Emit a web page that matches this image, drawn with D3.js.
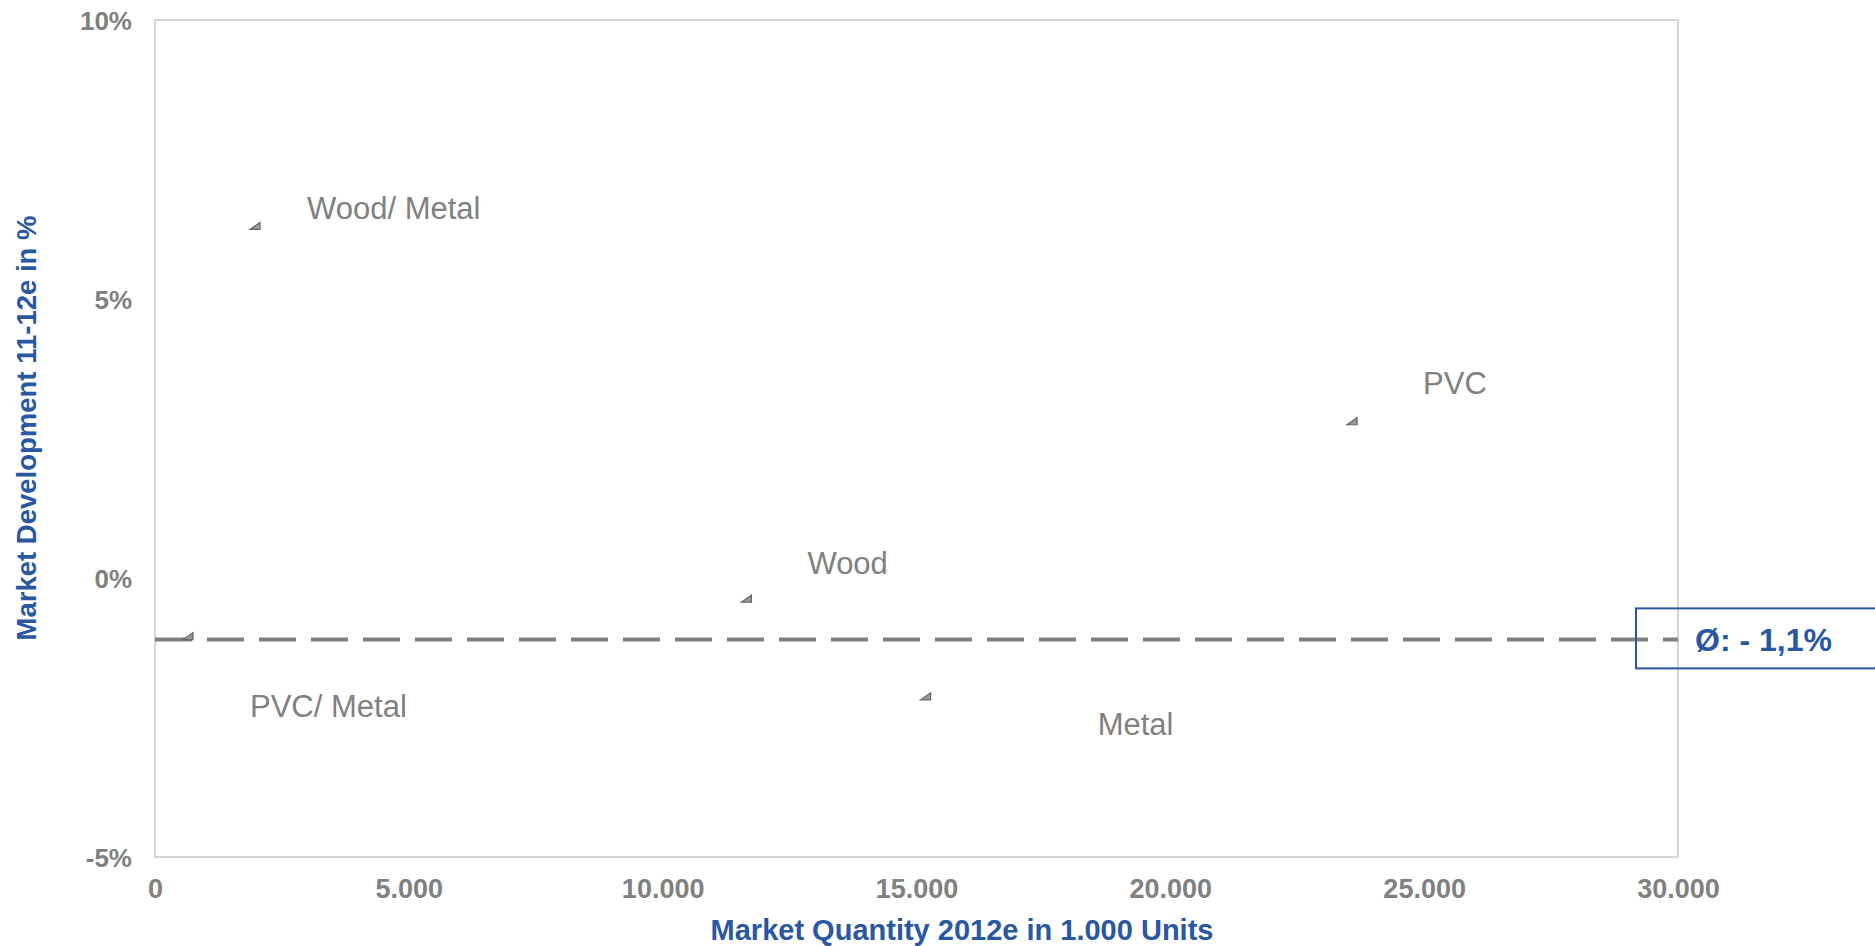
<!DOCTYPE html>
<html>
<head>
<meta charset="utf-8">
<script src="https://cdn.jsdelivr.net/npm/d3@7"></script>
<style>
  html, body { margin: 0; padding: 0; background: #fff; }
  body { font-family: "Liberation Sans", Arial, sans-serif; }
</style>
</head>
<body>
<div id="chart"></div>
<script>
const categories = ["Wood/ Metal", "PVC/ Metal", "Wood", "Metal", "PVC"];
const quantities = [1970, 650, 11650, 15180, 23580];
const developments = [6.3, -1.05, -0.38, -2.13, 2.8];
// label offsets from the marker, in px
const labelDx = [52, 62, 61, 172, 71];
const labelDy = [-7, 80, -25, 38, -28];

const xTicks = [0, 5000, 10000, 15000, 20000, 25000, 30000];
const yTicks = [-5, 0, 5, 10];
const average = -1.1;
const averageLabel = "Ø: - 1,1%";
const xTitle = "Market Quantity 2012e in 1.000 Units";
const yTitle = "Market Development 11-12e in %";

function Scatter(params) {
  const attrs = Object.assign(
    {
      container: "#chart",
      width: 1875,
      height: 946,
      margin: { top: 20, right: 197, bottom: 89, left: 155 },
    },
    params || {}
  );

  const grey = "#808080";
  const blue = "#2957A0";
  const fontFamily = '"Liberation Sans", Arial, sans-serif';

  let container, svg, chart, chartWidth, chartHeight, xScale, yScale, data;

  function main() {
    container = d3.select(attrs.container);
    data = categories.map((c, i) => ({
      name: c,
      x: quantities[i],
      y: developments[i],
      dx: labelDx[i],
      dy: labelDy[i],
    }));

    chartWidth = attrs.width - attrs.margin.left - attrs.margin.right;
    chartHeight = attrs.height - attrs.margin.top - attrs.margin.bottom;

    xScale = d3.scaleLinear([0, 30000], [0, chartWidth]);
    yScale = d3.scaleLinear([-5, 10], [chartHeight, 0]);

    svg = container
      .append("svg")
      .attr("width", attrs.width)
      .attr("height", attrs.height)
      .style("font-family", fontFamily);

    chart = svg
      .append("g")
      .attr("transform", `translate(${attrs.margin.left}, ${attrs.margin.top})`);

    drawAxes();
    drawAverage();
    drawPoints();
  }

  function drawAxes() {
    chart
      .append("rect")
      .attr("width", chartWidth)
      .attr("height", chartHeight)
      .attr("fill", "none")
      .attr("stroke", "#c9c9c9")
      .attr("stroke-width", 1.5);

    const xAxis = d3
      .axisBottom(xScale)
      .tickValues(xTicks)
      .tickSize(0)
      .tickPadding(22)
      .tickFormat((d) => d3.format(",")(d).replace(/,/g, "."));

    const yAxis = d3
      .axisLeft(yScale)
      .tickValues(yTicks)
      .tickSize(0)
      .tickPadding(23)
      .tickFormat((d) => d + "%");

    chart
      .append("g")
      .attr("class", "x-axis")
      .attr("transform", `translate(0, ${chartHeight})`)
      .call(xAxis)
      .call((g) => g.select(".domain").remove());

    chart
      .append("g")
      .attr("class", "y-axis")
      .call(yAxis)
      .call((g) => g.select(".domain").remove())
      .selectAll("text")
      .attr("dy", "0.35em");

    chart
      .selectAll(".tick text")
      .attr("fill", grey)
      .attr("font-family", fontFamily)
      .attr("font-weight", "bold")
      .attr("font-size", 26);

    chart.selectAll(".x-axis .tick text").attr("font-size", 27);

    svg
      .append("text")
      .attr("x", 962)
      .attr("y", 940)
      .attr("text-anchor", "middle")
      .attr("fill", blue)
      .attr("font-weight", "bold")
      .attr("font-size", 29)
      .text(xTitle);

    svg
      .append("text")
      .attr("transform", "translate(36, 428) rotate(-90)")
      .attr("text-anchor", "middle")
      .attr("fill", blue)
      .attr("font-weight", "bold")
      .attr("font-size", 27.5)
      .text(yTitle);
  }

  function drawAverage() {
    const y = yScale(average);

    chart
      .append("line")
      .attr("x1", 0)
      .attr("x2", chartWidth)
      .attr("y1", y)
      .attr("y2", y)
      .attr("stroke", grey)
      .attr("stroke-width", 4)
      .attr("stroke-dasharray", "37 15");

    const box = chart
      .append("g")
      .attr("transform", `translate(${chartWidth - 42}, ${y - 31})`);

    box
      .append("rect")
      .attr("width", 300)
      .attr("height", 60)
      .attr("fill", "none")
      .attr("stroke", blue)
      .attr("stroke-width", 2);

    box
      .append("text")
      .attr("x", 59)
      .attr("y", 43)
      .attr("fill", blue)
      .attr("font-weight", "bold")
      .attr("font-size", 32)
      .text(averageLabel);
  }

  function drawPoints() {
    const point = chart
      .selectAll(".point")
      .data(data)
      .join("g")
      .attr("class", "point")
      .attr("transform", (d) => `translate(${xScale(d.x)}, ${yScale(d.y)})`);

    point
      .append("path")
      .attr("d", "M-5,3L5,3L5,-4Z")
      .attr("fill", "#9a9a9a")
      .attr("stroke", "#666")
      .attr("stroke-width", 1.2);

    point
      .append("text")
      .attr("x", (d) => d.dx)
      .attr("y", (d) => d.dy)
      .attr("fill", grey)
      .attr("font-size", 31)
      .text((d) => d.name);
  }

  return main;
}

Scatter()();
</script>
</body>
</html>
